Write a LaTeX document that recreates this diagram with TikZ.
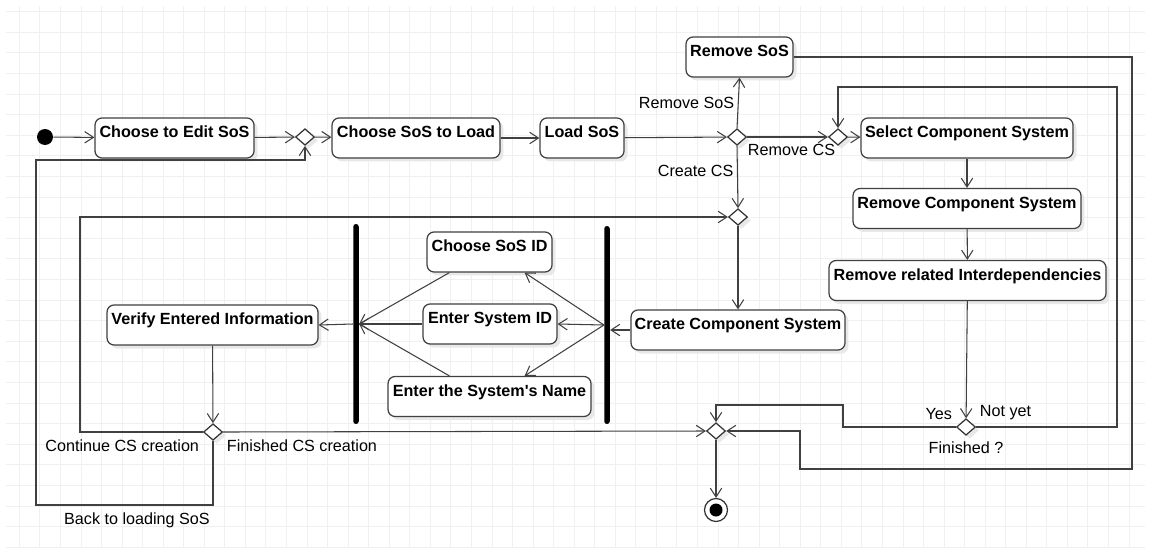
\documentclass[tikz,border=0pt]{standalone}
\usepackage{fontspec}
\setmainfont{Liberation Sans}
\usetikzlibrary{arrows.meta, shapes.geometric, shadows, calc}
\tikzset{
  actbox/.style={
    rectangle, draw=black!75, rounded corners=4pt, fill=white, line width=0.7pt,
    minimum height=0.8cm, inner sep=0pt, text height=7pt, text depth=7.2pt,
    font=\fontsize{9.2}{11}\selectfont\bfseries,
    drop shadow={fill=black!9, opacity=1, shadow xshift=0.07cm, shadow yshift=-0.07cm}
  },
  branch/.style={
    diamond, draw=black!80, fill=white, line width=0.7pt, inner sep=0pt,
    minimum width=0.38cm, minimum height=0.33cm,
    drop shadow={fill=black!9, opacity=1, shadow xshift=0.07cm, shadow yshift=-0.07cm}
  },
  syncbar/.style={rectangle, fill=black, rounded corners=1.5pt, minimum width=0.11cm, inner sep=0pt},
  flow/.style={-{Straight Barb[length=5pt,width=6.5pt]}, draw=black!75, line width=0.6pt},
  guard/.style={font=\fontsize{9.2}{11}\selectfont, inner sep=2pt},
  gridline/.style={draw=black!6, line width=0.5pt}
}

\begin{document}
\begin{tikzpicture}[x=0.02cm, y=-0.02cm]
    % page and grid
    \fill[white] (0,0) rectangle (1151,554);
    \useasboundingbox (0,0) rectangle (1151,554);
    \foreach \i in {0,...,54} \draw[gridline] ({19.3+20.55*\i},6) -- ({19.3+20.55*\i},548);
    \foreach \j in {0,...,26} \draw[gridline] (6,{11.7+20.6*\j}) -- (1145,{11.7+20.6*\j});

    % main row
    \node[circle, fill=black, minimum size=0.32cm, inner sep=0pt] (start) at (45,137) {};
    \node[actbox, minimum width=3.18cm] (editsos) at (174.5,138) {Choose to Edit SoS};
    \node[branch] (d1) at (305,137) {};
    \node[actbox, minimum width=3.36cm] (choosesos) at (416,138) {Choose SoS to Load};
    \node[actbox, minimum width=1.68cm] (loadsos) at (582,138) {Load SoS};
    \node[branch] (d2) at (737,137) {};
    \node[actbox, minimum width=2.14cm] (rmsos) at (739.5,57) {Remove SoS};
    \node[branch] (d3) at (838,137) {};

    % remove component system branch
    \node[actbox, minimum width=4.24cm] (selcs) at (967,138) {Select Component System};
    \node[actbox, minimum width=4.56cm] (rmcs) at (967,208.5) {Remove Component System};
    \node[actbox, minimum width=5.54cm] (rmrel) at (967.5,280.5) {Remove related Interdependencies};
    \node[branch] (dfin) at (966,427) {};

    % create component system branch
    \node[branch] (d4) at (738,217) {};
    \node[actbox, minimum width=4.28cm] (createcs) at (738,330) {Create Component System};
    \node[syncbar, minimum height=3.96cm] (forkR) at (607,325) {};
    \node[actbox, minimum width=2.5cm] (sosid) at (489.5,252) {Choose SoS ID};
    \node[actbox, minimum width=2.68cm] (sysid) at (490,324) {Enter System ID};
    \node[actbox, minimum width=4.06cm] (sysname) at (489.5,396.5) {Enter the System\textquotesingle s Name};
    \node[syncbar, minimum height=4cm] (joinL) at (356,324) {};
    \node[actbox, minimum width=4.22cm] (verify) at (212.5,325) {Verify Entered Information};
    \node[branch] (dcont) at (213,432) {};

    % end
    \node[branch] (dend) at (716,431) {};
    \node[circle, draw=black!80, fill=white, line width=0.7pt, minimum size=0.46cm, inner sep=0pt,
      path picture={\fill[black] (path picture bounding box.center) circle (0.13cm);}] (stop) at (716,510) {};

    % bends
    \coordinate (rmR) at (1132,469);
    \coordinate (rmB) at (800,469);
    \coordinate (loopR) at (1117,87);
    \coordinate (yesA) at (843,405);
    \coordinate (contTL) at (80,217);
    \coordinate (backBL) at (36,505);
    \coordinate (backTL) at (36,160);

    % connectors
    \draw[flow] (start) -- (editsos);
    \draw[flow] (editsos) -- (d1);
    \draw[flow] (d1) -- (choosesos);
    \draw[flow] (choosesos) -- (loadsos);
    \draw[flow] (loadsos) -- (d2);
    \draw[flow] (d2.north) -- node[guard, left, midway] (lblrmsos) {Remove SoS} (rmsos.south);
    \draw[flow] (d2.east) -- node[guard, below=2pt, pos=0.55] (lblrmcs) {Remove CS} (d3.west);
    \draw[flow] (d2.south) -- node[guard, left, pos=0.4] (lblcrcs) {Create CS} (d4.north);
    \draw[flow] (d3) -- (selcs);
    \draw[flow] (rmsos.east) -| (rmR) -- (rmB) |- (dend.east);
    \draw[flow] (selcs) -- (rmcs);
    \draw[flow] (rmcs) -- (rmrel);
    \draw[flow] (rmrel) -- (dfin);
    \draw[flow] (dfin.east) -| (loopR) -| (d3.north);
    \draw[flow] (dfin.west) -| (yesA) -| (dend.north);
    \draw[flow] (d4) -- (createcs);
    \draw[flow] (createcs.west) -- (createcs.west -| forkR.east);
    \draw[flow] (forkR.west) -- ($(sosid.south east)+(-28,0)$);
    \draw[flow] (forkR.west) -- (sysid.east);
    \draw[flow] (forkR.west) -- ($(sysname.north east)+(-67,0)$);
    \draw[flow] ($(sosid.south west)+(23,0)$) -- (joinL.east);
    \draw[flow] (sysid.west) -- (joinL.east);
    \draw[flow] ($(sysname.north west)+(62,0)$) -- (joinL.east);
    \draw[flow] (joinL.west) -- (verify.east);
    \draw[flow] (verify) -- (dcont);
    \draw[flow] (dcont.west) -| (contTL) -- (d4.west);
    \draw[flow] (dcont.east) -- (dend.west);
    \draw[flow] (dcont.south) |- (backBL) -- (backTL) -| (d1.south);
    \draw[flow] (dend) -- (stop);

    % guard labels
    \node[guard, anchor=south east] (lblyes) at ([yshift=0.06cm]dfin.west) {Yes};
    \node[guard, anchor=south west] (lblnot) at ([yshift=0.06cm]dfin.east) {Not yet};
    \node[guard, below] (lblfin) at ([yshift=-0.04cm]dfin.south) {Finished ?};
    \node[guard, anchor=north east] (lblcont) at ([yshift=-0.08cm]dcont.west) {Continue CS creation};
    \node[guard, anchor=north west] (lblfinis) at ([yshift=-0.08cm]dcont.east) {Finished CS creation};
    \node[guard] (lblback) at (137,520) {Back to loading SoS};
\end{tikzpicture}
\end{document}
